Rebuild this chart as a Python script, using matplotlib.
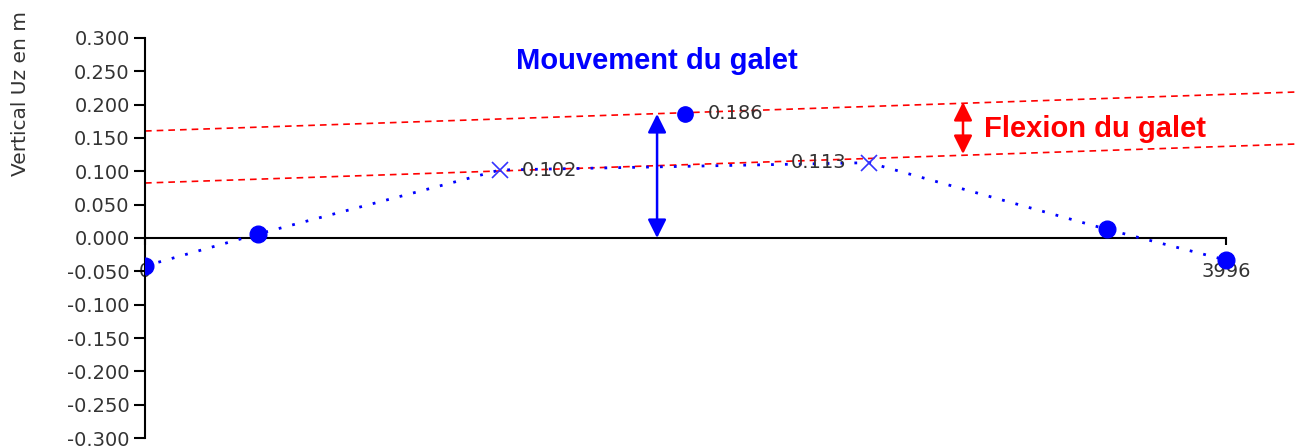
import matplotlib
matplotlib.use("Agg")
import matplotlib.pyplot as plt

# points along the profile (dotted line)
x_pts = [0, 418, 1312, 2676, 3556, 3996]
y_pts = [-0.042, 0.006, 0.102, 0.113, 0.013, -0.033]
is_cross = [False, False, True, True, False, False]

# displaced roller point
peak_x = 1998
peak_y = 0.186

# labelled values
lab_x = [1312, 1998, 2676]
lab_y = [0.102, 0.186, 0.113]
lab_txt = ["0.102", "0.186", "0.113"]
lab_side = [1, 1, -1]

x_end = 3996
x_view = 4255

# red dashed reference lines (y at left, y at right of view)
upper_line = [0.1605, 0.219]
lower_line = [0.0825, 0.141]

yticks = [-0.3, -0.25, -0.2, -0.15, -0.1, -0.05, 0.0, 0.05, 0.1, 0.15, 0.2, 0.25, 0.3]

blue = "#0000FF"
red = "#FF0000"
txtcol = "#333333"

fig = plt.figure(figsize=(12.96, 4.46), dpi=100)
ax = fig.add_axes([145 / 1296, 8 / 446, 1151 / 1296, 400 / 446])
ax.set_xlim(0, x_view)
ax.set_ylim(-0.3, 0.3)

for s in ["top", "right"]:
    ax.spines[s].set_visible(False)
ax.spines["left"].set_linewidth(1.5)
ax.spines["bottom"].set_position(("data", 0))
ax.spines["bottom"].set_bounds(0, x_end)
ax.spines["bottom"].set_linewidth(1.5)

ax.set_yticks(yticks)
ax.set_yticklabels([f"{v:.3f}" for v in yticks], fontsize=14, color=txtcol,
                   family="DejaVu Sans")
ax.tick_params(axis="y", length=8, width=1.5, pad=3)
ax.set_xticks([0, x_end])
ax.set_xticklabels(["0", "3996"], fontsize=14, color=txtcol, family="DejaVu Sans")
ax.tick_params(axis="x", length=5, width=1.5, pad=12)

# red dashed lines
ax.plot([0, x_view], upper_line, color=red, lw=1.2, ls=(0, (4, 3)), zorder=2)
ax.plot([0, x_view], lower_line, color=red, lw=1.2, ls=(0, (4, 3)), zorder=2)

# dotted profile
ax.plot(x_pts, y_pts, color=blue, lw=2, ls=(0, (1, 4)), zorder=3)
for x, y, c in zip(x_pts, y_pts, is_cross):
    if c:
        ax.plot(x, y, marker="x", color="#3333FF", ms=12, mew=1.2, ls="none", zorder=4)
    else:
        ax.plot(x, y, marker="o", color=blue, ms=12, ls="none", zorder=4)
ax.plot(peak_x, peak_y, marker="o", color=blue, ms=11, ls="none", zorder=4)

for x, y, t, s in zip(lab_x, lab_y, lab_txt, lab_side):
    ax.annotate(t, (x, y), xytext=(16 * s, 0), textcoords="offset points",
                ha="left" if s > 0 else "right", va="center",
                fontsize=14, color=txtcol, family="DejaVu Sans", zorder=5)

# arrows
ax.annotate("", xy=(1893, 0.186), xytext=(1893, 0.0),
            arrowprops=dict(arrowstyle="<|-|>", color=blue, lw=1.8,
                            mutation_scale=28, shrinkA=0, shrinkB=0))
ax.annotate("", xy=(3024, 0.204), xytext=(3024, 0.126),
            arrowprops=dict(arrowstyle="<|-|>", color=red, lw=1.8,
                            mutation_scale=28, shrinkA=0, shrinkB=0))

ax.text(1893, 0.266, "Mouvement du galet", color=blue, fontsize=21,
        fontweight="bold", family="Liberation Sans", ha="center", va="center")
ax.text(3100, 0.163, "Flexion du galet", color=red, fontsize=21,
        fontweight="bold", family="Liberation Sans", ha="left", va="center")

fig.text(0.016, 0.975, "Vertical Uz en m", rotation=90, ha="center", va="top",
         fontsize=14.5, color=txtcol, family="DejaVu Sans")

fig.savefig("out.png", dpi=100)
